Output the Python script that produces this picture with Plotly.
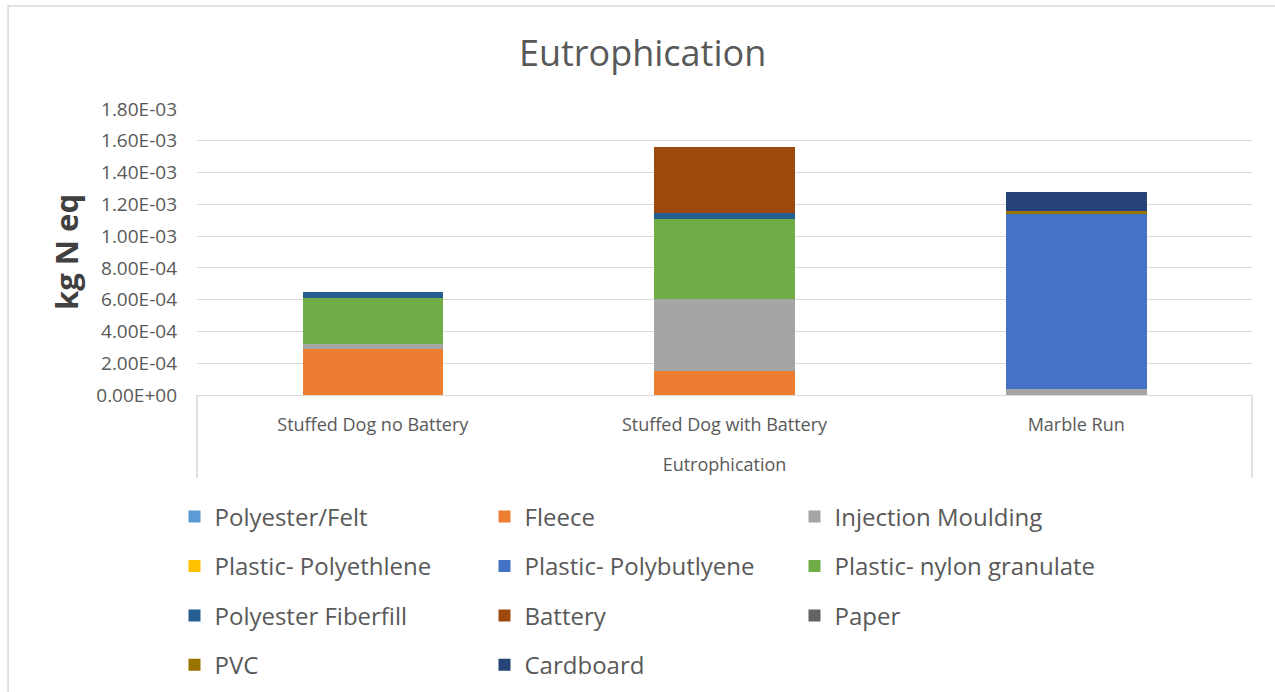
import plotly.graph_objects as go

# Products compared and the eutrophication impact of each material (kg N eq)
products = ["Stuffed Dog no Battery", "Stuffed Dog with Battery", "Marble Run"]

polyester_felt = [0.0, 0.0, 0.0]
fleece = [2.89e-4, 1.53e-4, 0.0]
injection_moulding = [0.33e-4, 4.54e-4, 0.35e-4]
plastic_polyethlene = [0.0, 0.0, 0.0]
plastic_polybutlyene = [0.0, 0.0, 11.03e-4]
plastic_nylon_granulate = [2.87e-4, 5.02e-4, 0.0]
polyester_fiberfill = [0.42e-4, 0.36e-4, 0.0]
battery = [0.0, 4.16e-4, 0.0]
paper = [0.0, 0.0, 0.0]
pvc = [0.0, 0.0, 0.2e-4]
cardboard = [0.0, 0.0, 1.2e-4]

y_tick_values = [0, 2e-4, 4e-4, 6e-4, 8e-4, 1e-3, 1.2e-3, 1.4e-3, 1.6e-3, 1.8e-3]
y_tick_labels = ["0.00E+00", "2.00E-04", "4.00E-04", "6.00E-04", "8.00E-04",
                 "1.00E-03", "1.20E-03", "1.40E-03", "1.60E-03", "1.80E-03"]

# (name, values, colour, legend column)
series = [
    ("Polyester/Felt", polyester_felt, "#5B9BD5", "legend"),
    ("Fleece", fleece, "#ED7D31", "legend2"),
    ("Injection Moulding", injection_moulding, "#A5A5A5", "legend3"),
    ("Plastic- Polyethlene", plastic_polyethlene, "#FFC000", "legend"),
    ("Plastic- Polybutlyene", plastic_polybutlyene, "#4472C4", "legend2"),
    ("Plastic- nylon granulate", plastic_nylon_granulate, "#70AD47", "legend3"),
    ("Polyester Fiberfill", polyester_fiberfill, "#255E91", "legend"),
    ("Battery", battery, "#9E480E", "legend2"),
    ("Paper", paper, "#636363", "legend3"),
    ("PVC", pvc, "#997300", "legend"),
    ("Cardboard", cardboard, "#264478", "legend2"),
]

FONT = "Open Sans"
TEXT = "#595959"
GRID = "#D9D9D9"

fig = go.Figure()
for name, vals, color, leg in series:
    fig.add_trace(go.Bar(
        x=products, y=vals, name=name, marker_color=color,
        marker_line_width=0, legend=leg, legendgroup=name,
    ))

legend_common = dict(
    xref="container", yref="container", xanchor="left", yanchor="top",
    orientation="v", traceorder="grouped", tracegroupgap=15.2,
    font=dict(family=FONT, size=24, color=TEXT), bgcolor="rgba(0,0,0,0)",
    itemclick=False, itemdoubleclick=False,
)
top = 1 - 494.5 / 692
fig.update_layout(
    legend=dict(x=174.5 / 1275, y=top, **legend_common),
    legend2=dict(x=484.5 / 1275, y=top, **legend_common),
    legend3=dict(x=794.5 / 1275, y=top, **legend_common),
)

fig.update_layout(
    width=1275, height=692,
    barmode="stack", bargap=0.6,
    paper_bgcolor="white", plot_bgcolor="white",
    margin=dict(l=197, r=23, t=109, b=297, autoexpand=False),
    font=dict(family=FONT, color=TEXT),
    title=dict(text="Eutrophication", x=0.504, xref="container", xanchor="center",
               y=1 - 53 / 692, yref="container", yanchor="middle",
               font=dict(family=FONT, size=36, color=TEXT)),
    xaxis=dict(
        showline=True, linecolor=GRID, linewidth=1, ticks="",
        tickfont=dict(family=FONT, size=18, color=TEXT), ticklabelstandoff=13,
        title=dict(text="Eutrophication", standoff=23,
                   font=dict(family=FONT, size=18, color=TEXT)),
    ),
    yaxis=dict(
        range=[0, 1.8e-3], tickvals=y_tick_values, ticktext=y_tick_labels,
        showgrid=True, gridcolor=GRID, gridwidth=1, zeroline=False,
        showline=False, ticks="", ticklabelstandoff=19,
        tickfont=dict(family=FONT, size=19, color=TEXT),
    ),
    showlegend=True,
)

# Vertical axis title
fig.add_annotation(
    text="<b>kg N eq</b>", xref="paper", yref="paper",
    x=-0.1242, y=0.5, xanchor="center", yanchor="middle",
    textangle=-90, showarrow=False,
    font=dict(family=FONT, size=31, color="#404040"),
)

# Outer chart frame and the category box under the axis
fig.add_shape(type="rect", xref="paper", yref="paper",
              x0=-0.1791, x1=1.036, y0=-1.1, y1=1.360,
              line=dict(color=GRID, width=1.5), layer="below")
for xv in (0, 1):
    fig.add_shape(type="line", xref="paper", yref="paper",
                  x0=xv, x1=xv, y0=0, y1=-0.29,
                  line=dict(color=GRID, width=1.5))

fig.write_html("out.html")
